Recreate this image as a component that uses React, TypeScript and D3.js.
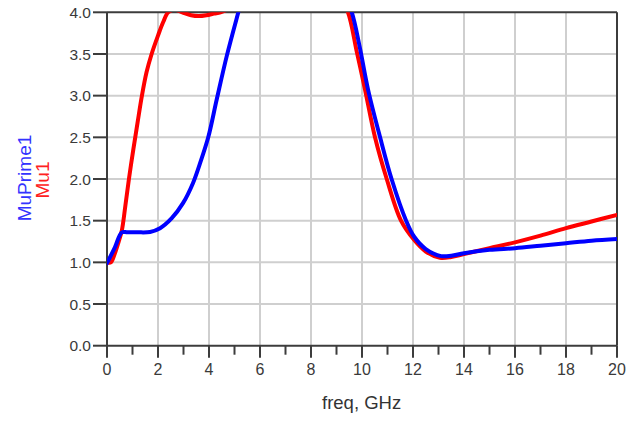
import React from "react";
import * as d3 from "d3";

const xTicks = [0, 2, 4, 6, 8, 10, 12, 14, 16, 18, 20];
const xMinorTicks = [1, 3, 5, 7, 9, 11, 13, 15, 17, 19];
const yTicks = [0, 0.5, 1.0, 1.5, 2.0, 2.5, 3.0, 3.5, 4.0];

// Mu1 (red)
const muFreq = [0, 0.15, 0.3, 0.45, 0.58, 0.72, 0.86, 1.03, 1.2, 1.37, 1.55, 1.75, 2.0, 2.2, 2.4, 2.65, 2.95, 3.3, 3.6, 3.9, 4.2, 4.45, 4.8, 5.5, 7, 8.5, 9.1, 9.45, 9.8, 10.12, 10.51, 10.97, 11.53, 12.04, 12.5, 13.06, 13.5, 14, 15, 16, 17, 18, 19, 20];
const muVal = [1.0, 1.0, 1.1, 1.24, 1.38, 1.68, 2.0, 2.35, 2.68, 3.0, 3.28, 3.5, 3.72, 3.88, 4.0, 4.03, 4.0, 3.965, 3.955, 3.965, 3.985, 4.0, 4.05, 4.3, 4.6, 4.5, 4.2, 4.0, 3.52, 3.07, 2.5, 2.0, 1.5, 1.27, 1.13, 1.055, 1.065, 1.1, 1.17, 1.24, 1.32, 1.41, 1.49, 1.57];

// MuPrime1 (blue)
const mpFreq = [0, 0.31, 0.58, 0.8, 1.2, 1.69, 2.08, 2.54, 2.98, 3.37, 3.65, 3.97, 4.3, 4.7, 5.15, 5.6, 7, 8.5, 9.2, 9.6, 9.9, 10.24, 10.71, 11.16, 11.73, 12.04, 12.5, 13.1, 13.5, 14, 15, 16, 17, 18, 19, 20];
const mpVal = [0.99, 1.18, 1.36, 1.36, 1.36, 1.365, 1.41, 1.53, 1.71, 1.95, 2.19, 2.5, 2.95, 3.48, 4.0, 4.5, 5.0, 4.8, 4.3, 4.0, 3.6, 3.07, 2.5, 2.0, 1.5, 1.31, 1.16, 1.075, 1.08, 1.11, 1.15, 1.17, 1.2, 1.23, 1.26, 1.28];

const W = 637;
const H = 421;
const left = 107;
const right = 617;
const top = 12.3;
const bottom = 345.7;

export default function App() {
  const x = d3.scaleLinear().domain([0, 20]).range([left, right]);
  const y = d3.scaleLinear().domain([0, 4]).range([bottom, top]);

  const line = d3
    .line<[number, number]>()
    .x((d) => x(d[0]))
    .y((d) => y(d[1]))
    .curve(d3.curveCatmullRom.alpha(0.5));

  const muPts = muFreq.map((f, i) => [f, muVal[i]] as [number, number]);
  const mpPts = mpFreq.map((f, i) => [f, mpVal[i]] as [number, number]);

  const font = "'Liberation Sans', Arial, sans-serif";
  const tickColor = "#3a3a3a";
  const gridColor = "#cfcfcf";
  const axisColor = "#3c3c3c";

  return (
    <svg
      width={W}
      height={H}
      style={{ position: "absolute", left: 0, top: 0, background: "#fff" }}
      fontFamily={font}
    >
      <defs>
        <clipPath id="plotClip">
          <rect x={left} y={top} width={right - left} height={bottom - top} />
        </clipPath>
      </defs>
      <rect x={0} y={0} width={W} height={H} fill="#fff" />
      {/* grid */}
      {xTicks.slice(1, -1).map((t) => (
        <line key={"gx" + t} x1={x(t)} x2={x(t)} y1={top} y2={bottom} stroke={gridColor} strokeWidth={2} />
      ))}
      {yTicks.slice(1, -1).map((t) => (
        <line key={"gy" + t} x1={left} x2={right} y1={y(t)} y2={y(t)} stroke={gridColor} strokeWidth={2} />
      ))}
      {/* frame */}
      <line x1={left} x2={right} y1={top} y2={top} stroke={axisColor} strokeWidth={2} />
      <line x1={right} x2={right} y1={top} y2={bottom} stroke={axisColor} strokeWidth={2} />
      <line x1={left} x2={left} y1={top} y2={bottom} stroke={axisColor} strokeWidth={2} />
      <line x1={left} x2={right} y1={bottom} y2={bottom} stroke={axisColor} strokeWidth={2} />
      {/* y ticks */}
      {yTicks.map((t) => (
        <g key={"yt" + t}>
          <line x1={left - 14} x2={left} y1={y(t)} y2={y(t)} stroke={axisColor} strokeWidth={2} />
          <text x={left - 16} y={y(t)} dy="0.36em" textAnchor="end" fontSize={15.5} fill={tickColor}>
            {t.toFixed(1)}
          </text>
        </g>
      ))}
      {/* x ticks */}
      {xTicks.map((t) => (
        <g key={"xt" + t}>
          <line x1={x(t)} x2={x(t)} y1={bottom} y2={bottom + 12} stroke={axisColor} strokeWidth={2} />
          <text x={x(t)} y={bottom + 29.5} textAnchor="middle" fontSize={16} fill={tickColor}>
            {t}
          </text>
        </g>
      ))}
      {xMinorTicks.map((t) => (
        <line key={"xm" + t} x1={x(t)} x2={x(t)} y1={bottom} y2={bottom + 9} stroke={axisColor} strokeWidth={2} />
      ))}
      {/* curves */}
      <g clipPath="url(#plotClip)">
        <path d={line(muPts) || ""} fill="none" stroke="#ff0000" strokeWidth={4} strokeLinejoin="round" strokeLinecap="round" />
        <path d={line(mpPts) || ""} fill="none" stroke="#0000ff" strokeWidth={4} strokeLinejoin="round" strokeLinecap="round" />
      </g>
      {/* axis labels */}
      <text x={322} y={409} fontSize={18.5} fill="#333">
        freq, GHz
      </text>
      <text transform="translate(31,178) rotate(-90)" textAnchor="middle" fontSize={19} fill="#3333ff">
        MuPrime1
      </text>
      <text transform="translate(49,180) rotate(-90)" textAnchor="middle" fontSize={19} fill="#ff2020">
        Mu1
      </text>
    </svg>
  );
}
